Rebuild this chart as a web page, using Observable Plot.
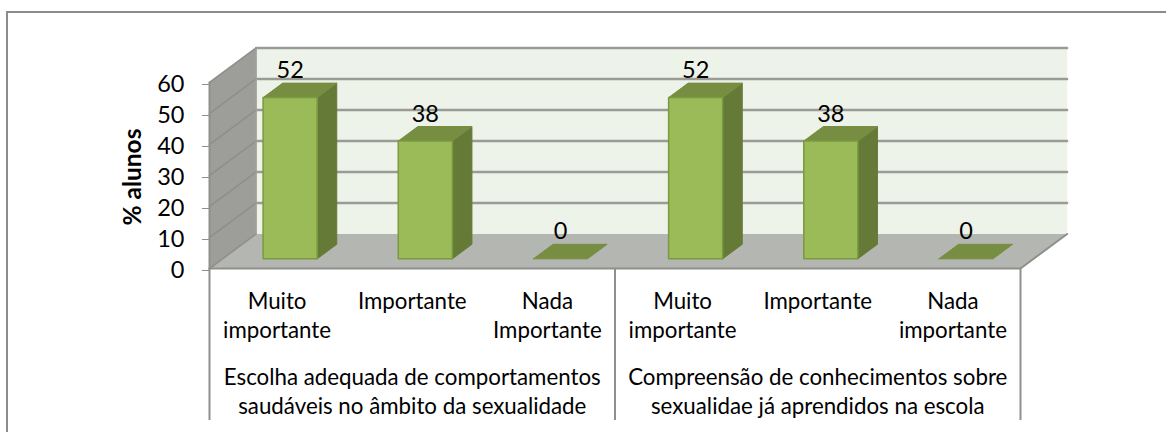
<!DOCTYPE html>
<html><head><meta charset="utf-8">
<script src="https://cdn.jsdelivr.net/npm/d3@7"></script>
<script src="https://cdn.jsdelivr.net/npm/@observablehq/plot@0.6"></script>
<style>
html,body{margin:0;padding:0;background:#fff;overflow:hidden}
#wrap{position:relative;width:1166px;height:432px;overflow:hidden}
#frame{position:absolute;left:6px;top:11px;width:1300px;height:600px;border:2px solid #8c8c8c;box-sizing:content-box;pointer-events:none}
svg{position:absolute;left:0;top:0;background:transparent!important}
</style></head><body>
<div id="wrap"><div id="frame"></div><div id="chart"></div></div>
<script>
const itemLabels = ["Muito\nimportante","Importante","Nada\nImportante","Muito\nimportante","Importante","Nada\nimportante"];
const groupLabels = ["Escolha adequada de comportamentos\nsaudáveis no âmbito da sexualidade","Compreensão de conhecimentos sobre\nsexualidae já aprendidos na escola"];
const values = [52,38,0,52,38,0];
const yTicks = [0,10,20,30,40,50,60];

// oblique 3D: one unit of depth, expressed in axis units
const shearX = 0.345, shearY = 11.15;
const barDepth0 = 0.28, barDepth1 = 0.70, barHalf = 0.2;
const P = (x,y,d,face) => ({x:x+d*shearX, y:y+d*shearY, face});
const N = values.length, YMAX = 60;

const wallBack = [P(0,0,1,"b"),P(N,0,1,"b"),P(N,YMAX,1,"b"),P(0,YMAX,1,"b"),P(0,0,1,"b")];
const wallSide = [P(0,0,0,"s"),P(0,0,1,"s"),P(0,YMAX,1,"s"),P(0,YMAX,0,"s"),P(0,0,0,"s")];
const floor = [P(0,0,0,"f"),P(N,0,0,"f"),P(N,0,1,"f"),P(0,0,1,"f"),P(0,0,0,"f")];
const gridBack = yTicks.filter(t=>t>0).flatMap(t=>[P(0,t,1,t),P(N,t,1,t)]);
const gridSide = yTicks.flatMap(t=>[P(0,t,0,t),P(0,t,1,t)]);
const wallCorner = [P(0,0,1,"c"),P(0,YMAX,1,"c")];
const wallFront = [P(0,0,0,"e"),P(0,YMAX,0,"e")];
const floorEdges = [P(0,0,0,"e"),P(N,0,0,"e"),P(N,0,1,"e")];

const boxes = values.map((v,i)=>({v,l:i+.5-barHalf,r:i+.5+barHalf,i}));
const poly = (pts)=>pts.concat([pts[0]]);
const fronts = boxes.filter(b=>b.v>0).flatMap(b=>poly([P(b.l,0,barDepth0,b.i),P(b.r,0,barDepth0,b.i),P(b.r,b.v,barDepth0,b.i),P(b.l,b.v,barDepth0,b.i)]));
const sides = boxes.filter(b=>b.v>0).flatMap(b=>poly([P(b.r,0,barDepth0,b.i),P(b.r,0,barDepth1,b.i),P(b.r,b.v,barDepth1,b.i),P(b.r,b.v,barDepth0,b.i)]));
const tops = boxes.flatMap(b=>poly([P(b.l,b.v,barDepth0,b.i),P(b.r,b.v,barDepth0,b.i),P(b.r,b.v,barDepth1,b.i),P(b.l,b.v,barDepth1,b.i)]));
const valueLabels = boxes.map(b=>({...P(b.i+.5,b.v,barDepth0,0),v:b.v}));

const face = (data,fill,stroke,sw=1,extra={}) => Plot.line(data,{x:"x",y:"y",z:"face",fill,stroke,strokeWidth:sw,curve:"linear",...extra});
const font = "Lato, 'Open Sans', sans-serif";
const GREY = "#8f8f8b";

const chart = Plot.plot({
  width:1166, height:432,
  marginLeft:209, marginRight:146, marginTop:82, marginBottom:164,
  style:{fontFamily:font,background:"transparent"},
  x:{type:"linear",domain:[0,N],axis:null},
  y:{type:"linear",domain:[0,YMAX],axis:null},
  marks:[
    face(wallBack,"#eef3e9","none"),
    face(wallSide,"#9d9e99","none"),
    face(floor,"#b4b6b1","none"),
    face(gridBack,"none","#9a9a96",2.4),
    face(gridSide,"none","#8f908b",1.6),
    face(wallCorner,"none","#a0a19c",1.5),
    face(wallFront,"none",GREY,2),
    face(floorEdges,"none",GREY,2),
    face(sides,"#667a38","#667a38",1),
    face(tops,"#778e42","#778e42",1),
    face(fronts,"#9bbb59","#7a9a40",1.5),
    Plot.text(valueLabels,{x:"x",y:"y",text:d=>String(d.v),dy:-27,fontSize:23.5,fill:"#000"}),
    Plot.axisY({ticks:yTicks,tickSize:7,tickPadding:18,fontSize:23.5,dy:2,label:null,stroke:GREY,fill:"#000"}),
    Plot.axisX({ticks:d3.range(.5,N),tickFormat:i=>itemLabels[Math.floor(i)],tickSize:0,tickPadding:20,fontSize:22.3,lineHeight:1.3,label:null,fill:"#000"}),
    Plot.axisX({ticks:[1.5,4.5],tickFormat:i=>groupLabels[Math.floor(i/3)],tickSize:0,tickPadding:96,fontSize:22.3,lineHeight:1.3,label:null,fill:"#000"}),
    Plot.axisX({ticks:[0,3,6],tickFormat:()=>"",tickSize:152,label:null,stroke:GREY,strokeWidth:2}),
    Plot.text(["% alunos"],{frameAnchor:"left",textAnchor:"middle",y:()=>29.5,dx:-76,rotate:-90,text:d=>d,fontSize:24.5,fontWeight:"bold",fill:"#000"})
  ]
});
document.getElementById("chart").appendChild(chart);
</script>
</body></html>
